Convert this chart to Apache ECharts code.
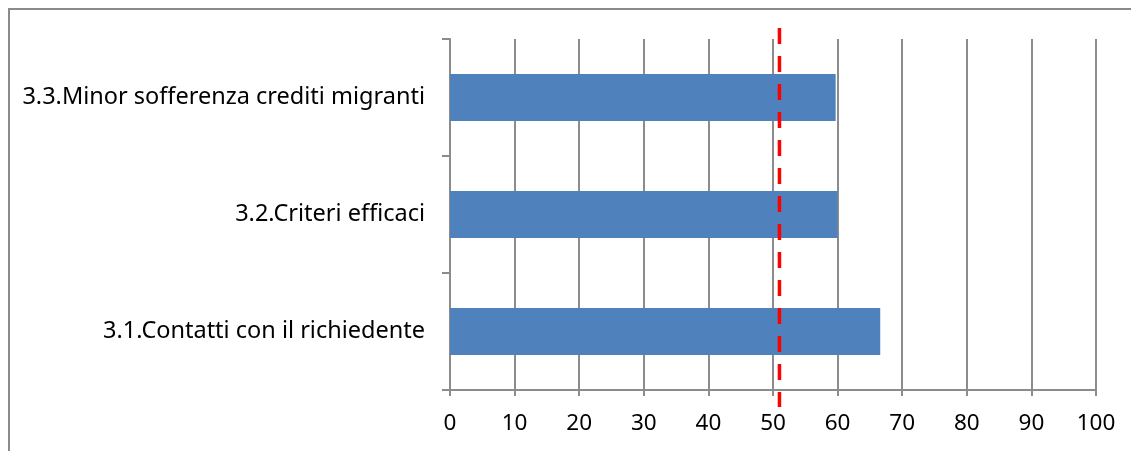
<!DOCTYPE html>
<html>
<head>
<meta charset="utf-8">
<script src="https://cdn.jsdelivr.net/npm/echarts@6/dist/echarts.min.js"></script>
<style>
  html, body { margin: 0; padding: 0; background: #fff; }
  #chart { width: 1131px; height: 451px; }
</style>
</head>
<body>
<div id="chart"></div>
<script>
// Categories, listed bottom to top as the category axis draws them
const categories = [
  '3.1.Contatti con il richiedente',
  '3.2.Criteri efficaci',
  '3.3.Minor sofferenza crediti migranti'
];
const scores = [66.6, 60.0, 59.7];
const thresholdValue = [51];
const xTicks = { min: 0, max: 100, interval: 10 };

const FONT = '"Noto Sans", sans-serif';
const GRID_COLOR = '#8c8c8c';

const chart = echarts.init(document.getElementById('chart'), null, { renderer: 'canvas' });

chart.setOption({
  animation: false,
  backgroundColor: '#ffffff',
  graphic: [{
    type: 'rect',
    shape: { x: 9, y: 9, width: 1140, height: 460 },
    style: { fill: 'none', stroke: '#8a8a8a', lineWidth: 2 },
    silent: true
  }],
  grid: { left: 450, right: 35, top: 39, bottom: 61, containLabel: false },
  xAxis: {
    type: 'value',
    min: xTicks.min,
    max: xTicks.max,
    interval: xTicks.interval,
    axisLine: { show: true, lineStyle: { color: GRID_COLOR, width: 2 } },
    axisTick: { show: true, length: 6, lineStyle: { color: GRID_COLOR, width: 2 } },
    splitLine: { show: true, lineStyle: { color: GRID_COLOR, width: 2 } },
    axisLabel: { color: '#000', fontFamily: FONT, fontSize: 22.5, margin: 22 }
  },
  yAxis: {
    type: 'category',
    data: categories,
    axisLine: { show: true, lineStyle: { color: GRID_COLOR, width: 2 } },
    axisTick: { show: true, length: 8, inside: false, lineStyle: { color: GRID_COLOR, width: 2 } },
    splitLine: { show: false },
    axisLabel: { color: '#000', fontFamily: FONT, fontSize: 23.5, margin: 25 }
  },
  series: [
    {
      type: 'bar',
      data: scores,
      barWidth: '40%',
      itemStyle: { color: '#4f81bd' },
      z: 2
    },
    {
      // Red dashed reference line, running a little past the plot edges
      type: 'custom',
      clip: false,
      z: 5,
      data: thresholdValue.map(v => [v]),
      renderItem: function (params, api) {
        const cs = params.coordSys;
        const x = api.coord([api.value(0), 0])[0];
        return {
          type: 'line',
          shape: { x1: x, y1: cs.y - 11, x2: x, y2: cs.y + cs.height + 17 },
          style: { stroke: '#ff0000', lineWidth: 3.5, lineDash: [16, 12], fill: null }
        };
      },
      encode: { x: 0 }
    }
  ]
});
</script>
</body>
</html>
